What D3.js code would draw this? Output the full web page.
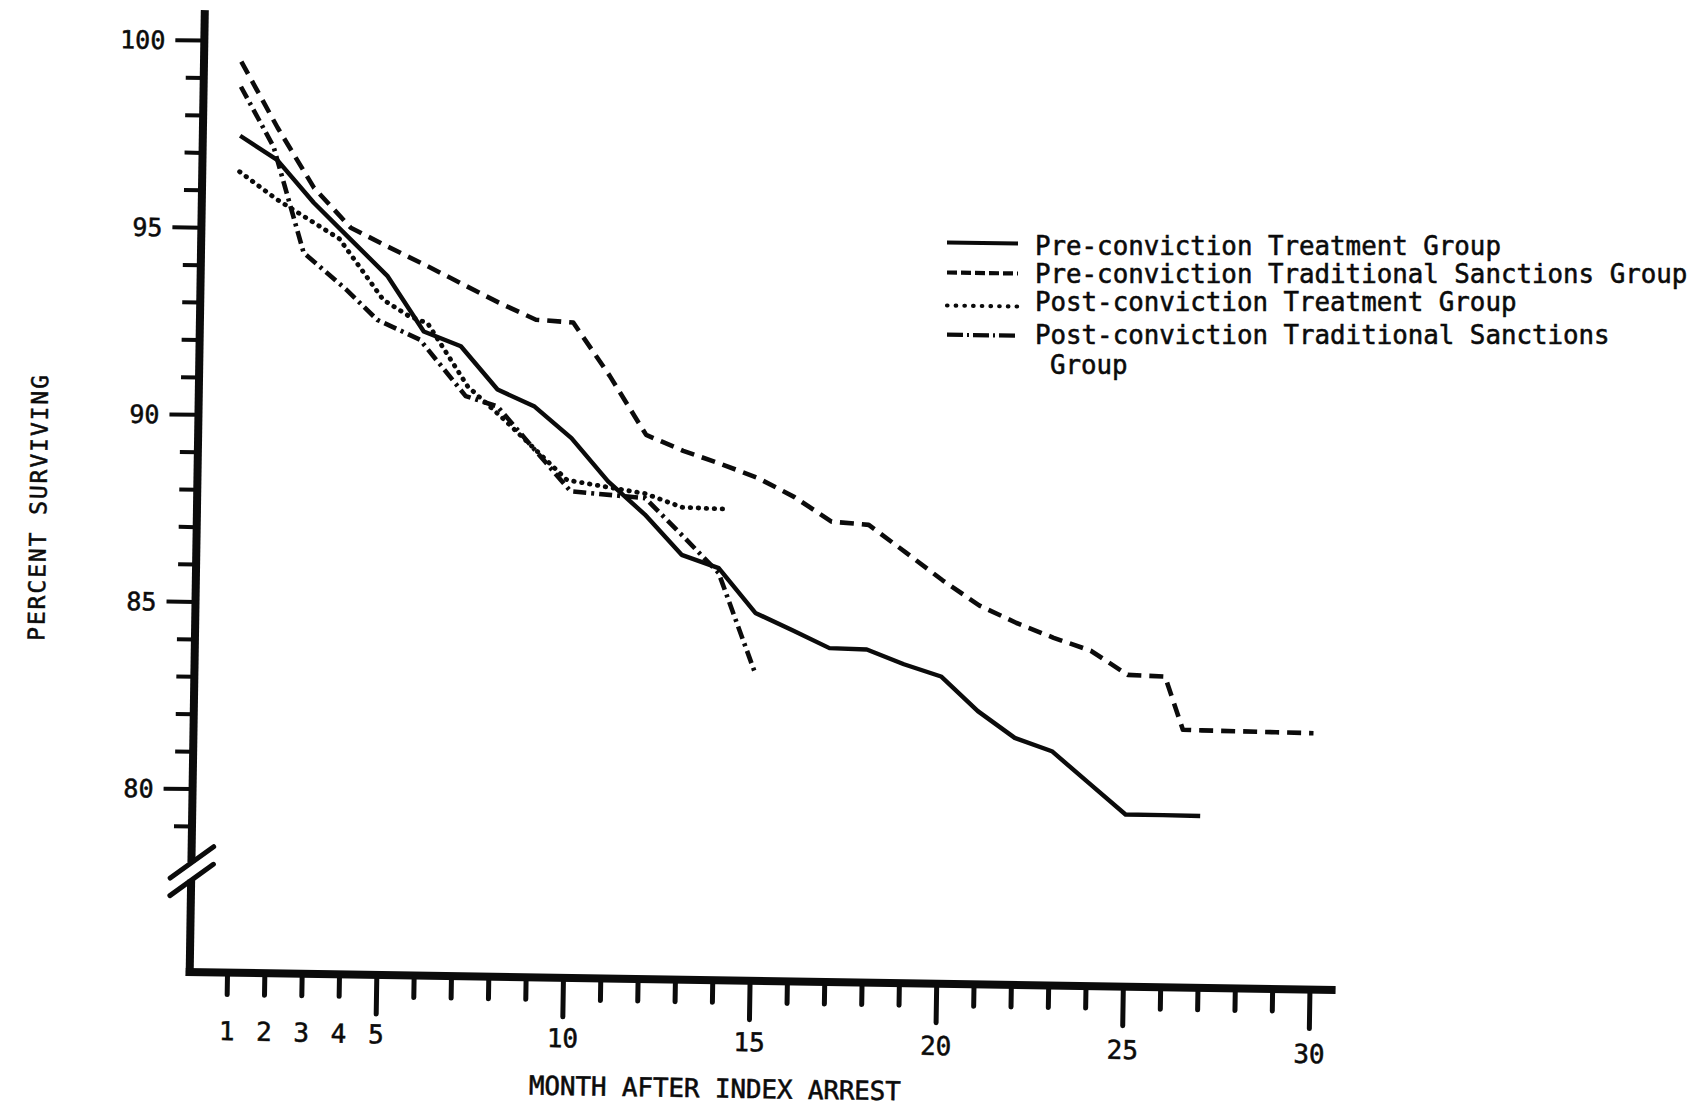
<!DOCTYPE html>
<html><head><meta charset="utf-8">
<script src="https://cdn.jsdelivr.net/npm/d3@7"></script>
<style>
html,body{margin:0;padding:0;background:#fff;}
svg{display:block;}
</style></head><body>
<svg id="chart" width="1702" height="1111"></svg>
<script>
// ---------------- data ----------------
const yTickValues = d3.range(79, 101);
const yTickLabels = [80, 85, 90, 95, 100];
const xTickValues = d3.range(1, 31);
const xTickLabels = [1, 2, 3, 4, 5, 10, 15, 20, 25, 30];
const yTitle = "PERCENT SURVIVING";
const xTitle = "MONTH AFTER INDEX ARREST";
const legendLabels = [
  "Pre-conviction Treatment Group",
  "Pre-conviction Traditional Sanctions Group",
  "Post-conviction Treatment Group",
  "Post-conviction Traditional Sanctions",
  "Group"
];

const preTreatMonths = [1,2,3,4,5,6,7,8,9,10,11,12,13,14,15,16,17,18,19,20,21,22,23,24,25,26,27];
const preTreatValues = [97.46,96.83,95.7,94.74,93.78,92.31,91.93,90.79,90.35,89.52,88.38,87.51,86.45,86.11,84.93,84.48,84.02,84.0,83.62,83.31,82.4,81.7,81.36,80.53,79.7,79.7,79.69];

const preTradMonths = [1,2,3,4,5,6,7,8,9,10,11,12,13,14,15,16,17,18,19,20,21,22,23,24,25,26,26.5,27,28,29,30];
const preTradValues = [99.44,97.69,96.1,95.05,94.56,94.09,93.6,93.11,92.67,92.61,91.2,89.64,89.23,88.9,88.54,88.04,87.4,87.33,86.61,85.88,85.22,84.77,84.39,84.06,83.43,83.4,81.99,81.98,81.97,81.96,81.95];

const postTreatMonths = [1,2,3.7,4.9,5.6,6.1,7.2,8.1,9.9,12,13,14.2];
const postTreatValues = [96.5,95.78,94.75,93.14,92.71,92.53,90.86,90.07,88.4,88.07,87.72,87.69];

const postTradMonths = [1,1.9,2.75,3.9,4.75,5.9,7.15,8,10,12,13,14,15];
const postTradValues = [98.77,97.18,94.36,93.4,92.6,92.09,90.6,90.34,88.1,87.95,86.98,85.98,83.37];

// ---------------- drawing ----------------
const W = 1702, H = 1111;
const ink = "#0b0b0b";
const mono = "DejaVu Sans Mono, monospace";
const textStroke = 0.55;
const svg = d3.select("#chart");
svg.append("rect").attr("width", W).attr("height", H).attr("fill", "#fff");

const x = d3.scaleLinear().domain([0, 30]).range([189.7, 1309.6]);
const y = d3.scaleLinear().domain([75.1, 100]).range([972, 40]);
const x0 = x(0), yBase = y(75.1);

// the scanned page is tilted slightly
const g = svg.append("g").attr("transform", `rotate(0.9,${x0},${yBase})`);

function inkText(sel, size) {
  return sel.attr("font-size", size).attr("font-family", mono)
    .attr("fill", ink).attr("stroke", ink).attr("stroke-width", textStroke);
}

// y axis ticks
const ya = g.append("g").attr("transform", `translate(${x0},0)`)
  .call(d3.axisLeft(y).tickValues(yTickValues)
    .tickFormat(d => yTickLabels.includes(d) ? d : "").tickSize(0).tickPadding(0));
ya.select(".domain").remove();
ya.selectAll(".tick line")
  .attr("x2", d => yTickLabels.includes(d) ? -29 : -18)
  .attr("stroke", ink).attr("stroke-width", 4);
inkText(ya.selectAll(".tick text").attr("x", -39).attr("dy", "0.36em"), 25);

// y axis line with break
const breakTop = y(78.03), breakBot = y(77.56);
g.append("line").attr("x1", x0).attr("x2", x0).attr("y1", y(100.8)).attr("y2", breakTop)
  .attr("stroke", ink).attr("stroke-width", 8);
g.append("line").attr("x1", x0).attr("x2", x0).attr("y1", breakBot).attr("y2", yBase + 4)
  .attr("stroke", ink).attr("stroke-width", 8);
[breakTop, breakBot].forEach(by => {
  g.append("line")
    .attr("x1", x0 - 21).attr("y1", by + 16)
    .attr("x2", x0 + 22).attr("y2", by - 16)
    .attr("stroke", ink).attr("stroke-width", 5).attr("stroke-linecap", "round");
});

// x axis
const xa = g.append("g").attr("transform", `translate(0,${yBase})`)
  .call(d3.axisBottom(x).tickValues(xTickValues)
    .tickFormat(d => xTickLabels.includes(d) ? d : "").tickSize(0).tickPadding(0));
xa.select(".domain").remove();
xa.selectAll(".tick line")
  .attr("y2", d => d % 5 === 0 ? 39 : 22)
  .attr("stroke", ink).attr("stroke-width", 5).attr("stroke-linecap", "round");
inkText(xa.selectAll(".tick text").attr("y", d => 58 + d * 0.2).attr("dy", "0.36em"), 26);
g.append("line").attr("x1", x0 - 4).attr("x2", x(30.7)).attr("y1", yBase).attr("y2", yBase)
  .attr("stroke", ink).attr("stroke-width", 8);

// axis titles
inkText(g.append("text").attr("transform", `translate(30.7,510.4) rotate(-90)`)
  .attr("text-anchor", "middle").attr("dy", "0.36em")
  .attr("textLength", 266).attr("lengthAdjust", "spacing"), 23)
  .text(yTitle);
inkText(g.append("text").attr("x", 716.7).attr("y", 1079.8)
  .attr("text-anchor", "middle").attr("dy", "0.36em")
  .attr("textLength", 372).attr("lengthAdjust", "spacing"), 26)
  .text(xTitle);

// series
const styles = [
  {dash: null, cap: "butt", w: 4.4},
  {dash: "14,8", cap: "butt", w: 4.6},
  {dash: "0.5,7.5", cap: "round", w: 4.8},
  {dash: "13,5,3,5", cap: "butt", w: 4.6}
];
const series = [
  d3.zip(preTreatMonths, preTreatValues),
  d3.zip(preTradMonths, preTradValues),
  d3.zip(postTreatMonths, postTreatValues),
  d3.zip(postTradMonths, postTradValues)
];
const line = d3.line().x(d => x(d[0])).y(d => y(d[1]));
series.forEach((s, i) => {
  g.append("path").attr("d", line(s)).attr("fill", "none")
    .attr("stroke", ink).attr("stroke-width", styles[i].w)
    .attr("stroke-linejoin", "round").attr("stroke-linecap", styles[i].cap)
    .attr("stroke-dasharray", styles[i].dash);
});

// legend (typed separately, not tilted)
const legY = [255, 282.5, 311, 344, 373.5];
const sampleY = [242.5, 272.5, 305.5, 334.7];
const sampleDash = [null, "10,4", "0.5,8.2", "16,4,2,4"];
const sampleCap = ["butt", "butt", "round", "butt"];
sampleY.forEach((sy, i) => {
  svg.append("line").attr("x1", 947).attr("x2", 1018).attr("y1", sy).attr("y2", sy + 1)
    .attr("stroke", ink).attr("stroke-width", 4.2).attr("stroke-linecap", sampleCap[i])
    .attr("stroke-dasharray", sampleDash[i]);
});
legendLabels.forEach((t, i) => {
  inkText(svg.append("text").attr("x", i === 4 ? 1050 : 1035).attr("y", legY[i]), 25.8)
    .text(t);
});
</script>
</body></html>
